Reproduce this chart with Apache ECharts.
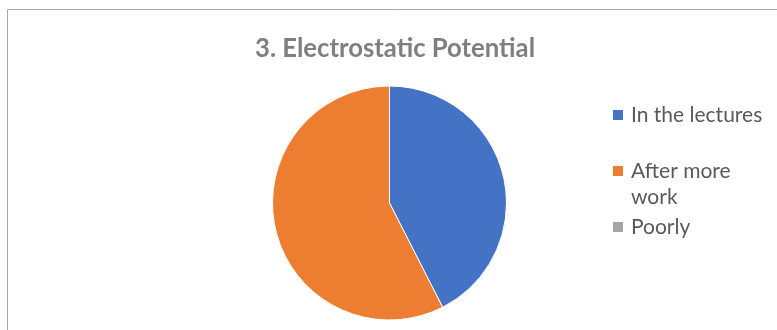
<!DOCTYPE html>
<html><head><meta charset="utf-8">
<script src="https://cdn.jsdelivr.net/npm/echarts@6/dist/echarts.min.js"></script>
<style>html,body{margin:0;padding:0;background:#fff}#c{width:777px;height:330px}</style>
</head><body><div id="c"></div>
<script>
const titleText = '3. Electrostatic Potential';
const categories = ['In the lectures', 'After more work', 'Poorly'];
const values = [17, 23, 0];
const colors = ['#4472C4', '#ED7D31', '#A5A5A5'];

const chart = echarts.init(document.getElementById('c'), null, {renderer: 'canvas'});
const font = 'Lato, "Open Sans", sans-serif';
const legendTops = [99, 127, 211];
const legends = categories.map((name, i) => {
  const multi = name === 'After more work';
  return {
    orient: 'vertical', left: 608, top: legendTops[i],
    itemWidth: 10, itemHeight: 10, itemGap: 0, icon: 'rect',
    itemStyle: {borderWidth: 0},
    selectedMode: false,
    data: [name],
    formatter: n => n === 'After more work' ? ' \nAfter more\nwork' : n,
    textStyle: {color: '#595959', fontSize: 21, fontFamily: font, lineHeight: multi ? 26 : 22, padding: [0, 0, 0, 3]}
  };
});
chart.setOption({
  animation: false,
  title: {
    text: titleText, left: 390, top: 31, textAlign: 'center',
    textStyle: {color: '#7F7F7F', fontSize: 25.7, fontWeight: 'bold', fontFamily: font}
  },
  legend: legends,
  graphic: [{type: 'rect', shape: {x: 7.5, y: 9.5, width: 800, height: 400},
    style: {fill: 'none', stroke: '#A6A6A6', lineWidth: 1}, silent: true}],
  series: [{
    type: 'pie', center: [389.5, 203], radius: 117, startAngle: 90,
    label: {show: false}, labelLine: {show: false}, silent: true,
    itemStyle: {borderColor: '#fff', borderWidth: 1},
    data: categories.map((n, i) => ({name: n, value: values[i], itemStyle: {color: colors[i]}}))
  }]
});
</script></body></html>
